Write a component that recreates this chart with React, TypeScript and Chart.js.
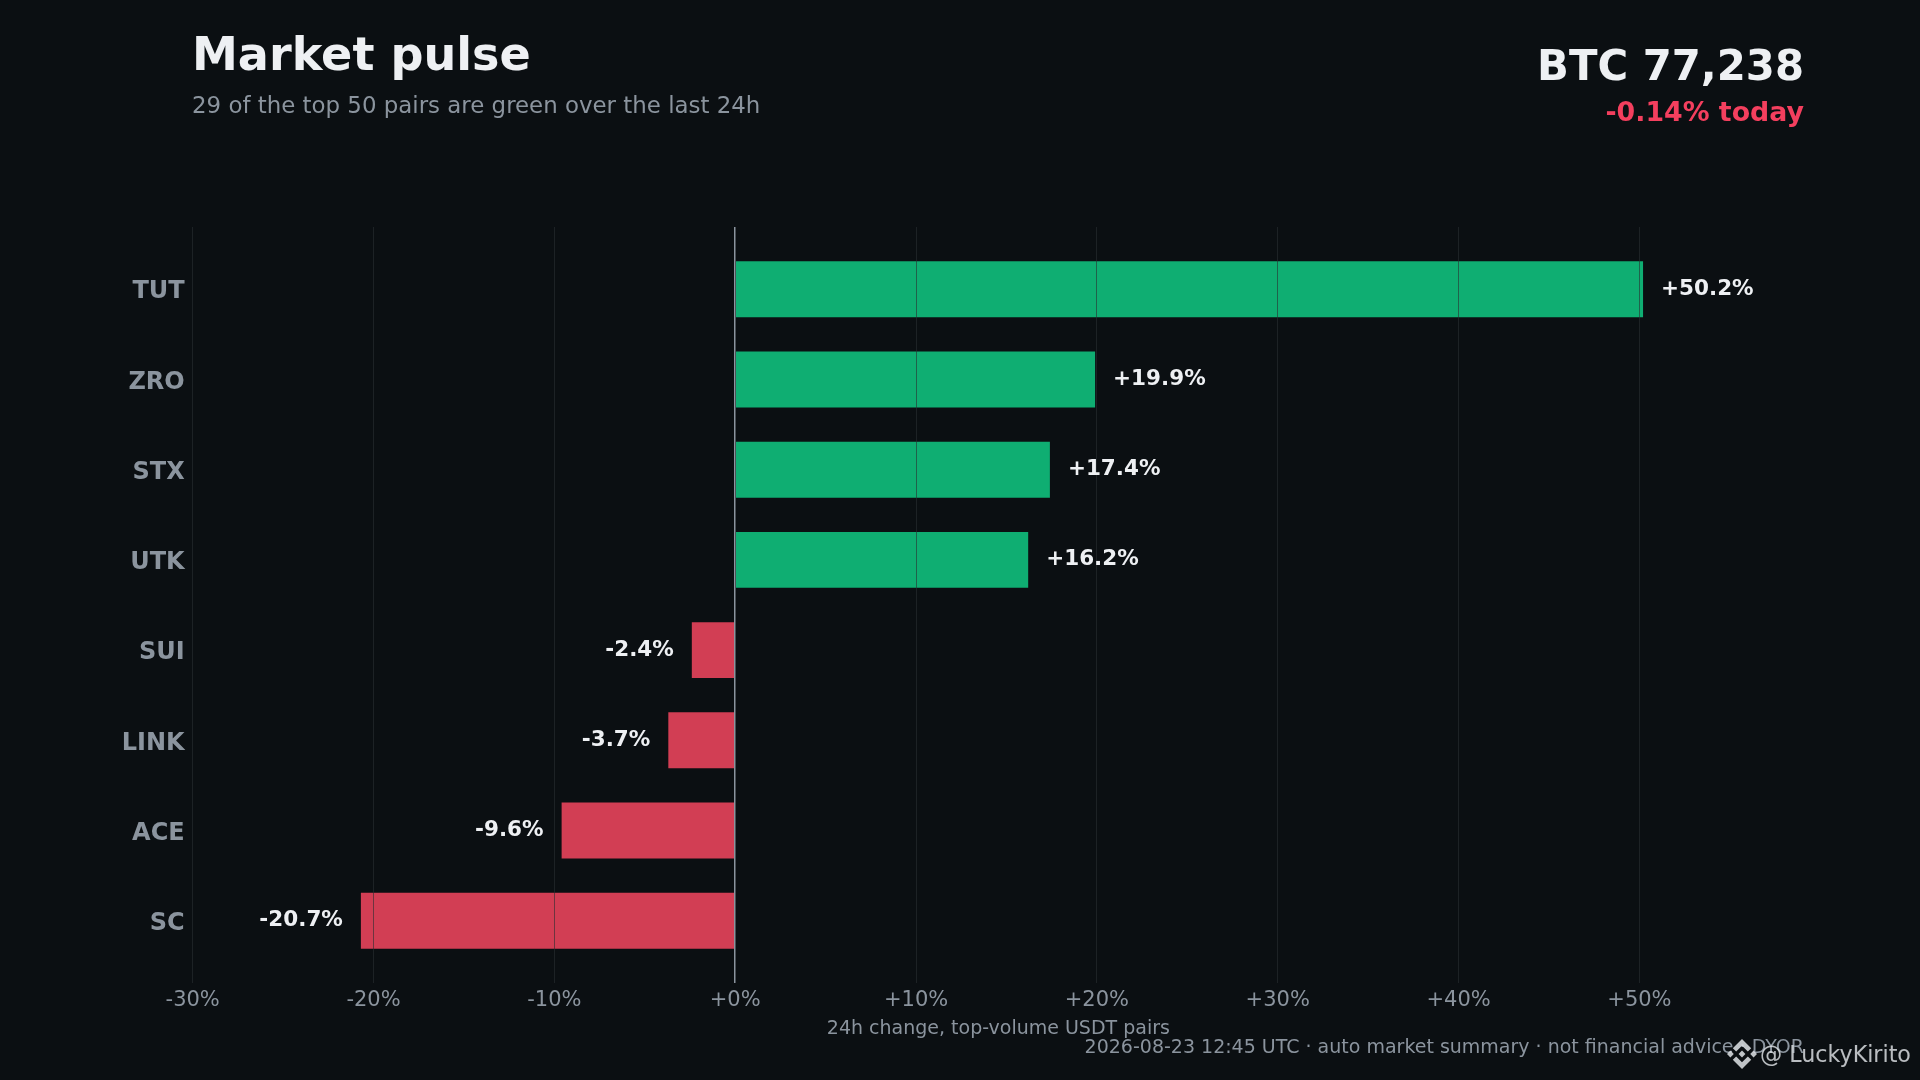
import { useEffect, useRef } from "react";
import Chart from "chart.js/auto";

const categories = ["TUT", "ZRO", "STX", "UTK", "SUI", "LINK", "ACE", "SC"];
const changes = [50.2, 19.9, 17.4, 16.2, -2.4, -3.7, -9.6, -20.7];
const xTickValues = [-30, -20, -10, 0, 10, 20, 30, 40, 50];

const FONT = "'DejaVu Sans', sans-serif";
const BG = "#0b0f12";
const GREEN = "#0fae72";
const RED = "#d23e54";
const MUTED = "#8b949e";
const LIGHT = "#eef0f3";

const fmt = (v: number, digits = 0) => (v >= 0 ? "+" : "") + v.toFixed(digits) + "%";

// value text next to each bar
const barLabels = {
  id: "barLabels",
  afterDraw(chart: any) {
    const { ctx } = chart;
    const bars = chart.getDatasetMeta(0).data;
    ctx.save();
    ctx.font = `bold 21.5px ${FONT}`;
    ctx.fillStyle = LIGHT;
    ctx.textBaseline = "middle";
    bars.forEach((bar: any, i: number) => {
      const v = changes[i];
      ctx.textAlign = v >= 0 ? "left" : "right";
      ctx.fillText(fmt(v, 1), bar.x + (v >= 0 ? 18 : -18), bar.y);
    });
    ctx.restore();
  },
};

const text = (style: any) => ({
  position: "absolute" as const,
  whiteSpace: "nowrap" as const,
  fontFamily: FONT,
  lineHeight: 1,
  ...style,
});

export default function App() {
  const canvasRef = useRef<HTMLCanvasElement>(null);

  useEffect(() => {
    if (!canvasRef.current) return;
    document.body.style.margin = "0";
    document.body.style.background = BG;

    const chart = new Chart(canvasRef.current, {
      type: "bar",
      plugins: [barLabels],
      data: {
        datasets: [
          {
            data: changes.map((v, i) => ({ x: v, y: i })),
            backgroundColor: changes.map((v) => (v >= 0 ? GREEN : RED)),
            borderWidth: 0,
            categoryPercentage: 1,
            barPercentage: 0.62,
          },
        ],
      },
      options: {
        indexAxis: "y",
        responsive: false,
        devicePixelRatio: 1,
        animation: false,
        layout: { padding: { top: 227, right: 116, bottom: 40, left: 0 } },
        plugins: { legend: { display: false }, tooltip: { enabled: false } },
        scales: {
          x: {
            type: "linear",
            min: -30,
            max: 59.1,
            afterBuildTicks: (axis: any) => {
              axis.ticks = xTickValues.map((value) => ({ value }));
            },
            afterFit: (axis: any) => {
              axis.height = 57;
            },
            border: { display: false },
            grid: {
              z: 1,
              drawTicks: false,
              color: (c: any) => (c.tick.value === 0 ? MUTED : "rgba(42,46,50,0.6)"),
              lineWidth: (c: any) => (c.tick.value === 0 ? 1.5 : 1),
            },
            ticks: {
              color: MUTED,
              font: { family: FONT, size: 21 },
              padding: 5,
              maxRotation: 0,
              autoSkip: false,
              callback: (v: any) => fmt(Number(v)),
            },
            title: {
              display: true,
              text: "24h change, top-volume USDT pairs",
              color: MUTED,
              font: { family: FONT, size: 19 },
              padding: 0,
            },
          },
          y: {
            type: "linear",
            reverse: true,
            offset: false,
            min: -0.69,
            max: 7.69,
            afterBuildTicks: (axis: any) => {
              axis.ticks = categories.map((_, value) => ({ value }));
            },
            afterFit: (axis: any) => {
              axis.width = 192.7;
            },
            border: { display: false },
            grid: { display: false, drawTicks: false, offset: false },
            ticks: {
              color: MUTED,
              font: { family: FONT, size: 24, weight: "bold" },
              padding: 8,
              labelOffset: 3,
              autoSkip: false,
              callback: (v: any) => categories[Number(v)],
            },
          },
        },
      },
    } as any);

    return () => chart.destroy();
  }, []);

  return (
    <div style={{ position: "relative", width: 1920, height: 1080, background: BG, overflow: "hidden" }}>
      <canvas ref={canvasRef} width={1920} height={1080} style={{ display: "block" }} />
      <div style={text({ left: 192, top: 31, fontSize: 46.1, fontWeight: 700, color: LIGHT })}>Market pulse</div>
      <div style={text({ left: 192, top: 94, fontSize: 22.9, color: MUTED })}>
        29 of the top 50 pairs are green over the last 24h
      </div>
      <div style={text({ right: 116, top: 45, fontSize: 41.8, fontWeight: 700, color: LIGHT })}>BTC 77,238</div>
      <div style={text({ right: 116, top: 99, fontSize: 26.8, fontWeight: 700, color: "#f43f5e" })}>-0.14% today</div>
      <div style={text({ right: 116, top: 1037, fontSize: 19, color: MUTED })}>
        2026-08-23 12:45 UTC · auto market summary · not financial advice · DYOR
      </div>
      <div style={text({ left: 1760, top: 1043, fontSize: 22.2, color: "rgba(225,228,232,0.82)" })}>@ LuckyKirito</div>
      <svg
        viewBox="0 0 126.61 126.61"
        width={30}
        height={30}
        style={{ position: "absolute", left: 1727, top: 1039, opacity: 0.85 }}
      >
        <g fill="#e1e4e8">
          <path d="M38.73 53.2l24.59-24.58 24.6 24.6 14.3-14.31L63.32 0 24.42 38.9z" />
          <path d="M0 63.31l14.3-14.31 14.31 14.31-14.31 14.3z" />
          <path d="M38.73 73.41l24.59 24.59 24.6-24.6 14.31 14.29-38.9 38.91-38.91-38.88z" />
          <path d="M98 63.31l14.3-14.31 14.31 14.3-14.31 14.32z" />
          <path d="M77.83 63.3L63.32 48.78 48.81 63.28l14.51 14.5z" />
        </g>
      </svg>
    </div>
  );
}
